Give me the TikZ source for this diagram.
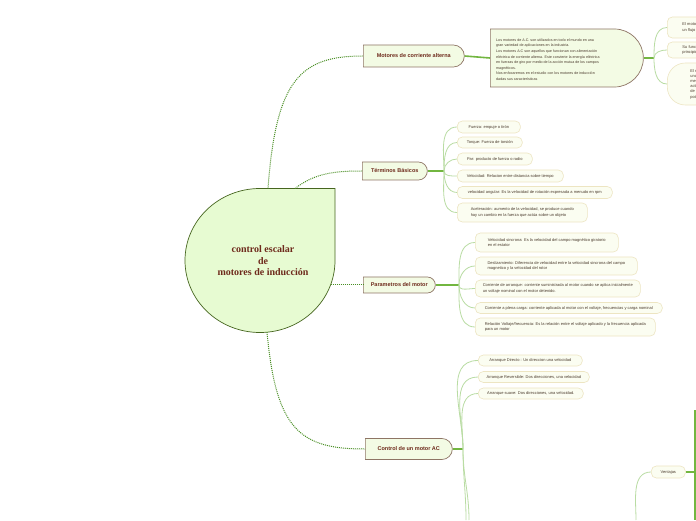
\documentclass[tikz,border=0pt]{standalone}
\usepackage{fontspec}
\setmainfont{Liberation Sans}
\newfontfamily\serifb{Liberation Serif}
\usetikzlibrary{shapes.misc}
\definecolor{dotgreen}{HTML}{4A8F25}
\definecolor{thickgreen}{HTML}{72B640}
\definecolor{thingreen}{HTML}{B9DCA3}
\definecolor{centfill}{HTML}{E7FBD2}
\definecolor{centdraw}{HTML}{46651F}
\definecolor{titletext}{HTML}{6E2A1C}
\definecolor{brfill}{HTML}{F3FBE4}
\definecolor{brdraw}{HTML}{8E7565}
\definecolor{subfill}{HTML}{FBFDF1}
\definecolor{subdraw}{HTML}{EDE5C2}
\definecolor{subtext}{HTML}{4A3A2C}
\begin{document}
\begin{tikzpicture}[x=1pt,y=1pt,
  branch/.style={rounded rectangle, rounded rectangle left arc=none, draw=brdraw, fill=brfill,
    line width=0.7pt, font=\fontsize{5.5}{6}\selectfont\bfseries, text=titletext, anchor=west, inner sep=0pt},
  sub/.style={rectangle, rounded corners=5pt, draw=subdraw, fill=subfill, line width=0.6pt,
    font=\fontsize{4}{5.2}\selectfont, text=subtext, anchor=west, inner sep=0pt, align=left},
  dotlink/.style={draw=dotgreen, line width=1pt, dash pattern=on 1pt off 1pt},
  thick link/.style={draw=thickgreen, line width=1.6pt},
  thin link/.style={draw=thingreen, line width=0.8pt},
]
\useasboundingbox (0,0) rectangle (696,520);
\fill[white] (0,0) rectangle (696,520);
\clip (0,0) rectangle (696,520);

% central teardrop
\path[fill=centfill, draw=centdraw, line width=0.7pt]
  (260,331.5) -- (335,331.5) -- (335,259.5)
  arc[start angle=0, end angle=-270, x radius=75, y radius=72] -- cycle;
\node[font=\serifb\fontsize{10}{11.5}\selectfont\bfseries, text=titletext, align=center]
  (ctext) at (263,259) {control escalar\\de\\motores de inducción};
\coordinate (cA) at (268,331.5);
\coordinate (cB) at (295,331.5);
\coordinate (cC) at (330.5,235);
\coordinate (cD) at (267,187.8);

% main branches
\node[branch, minimum width=101, minimum height=22] (mot) at (363,464) {Motores de corriente alterna};
\node[branch, minimum width=65, minimum height=18] (ter) at (362,349) {Términos Básicos};
\node[branch, minimum width=72, minimum height=16] (par) at (363,235) {Parametros del motor};
\node[branch, minimum width=87, minimum height=21] (con) at (365,71) {Control de un motor AC};

\draw[dotlink] (cA) .. controls (276,440) and (300,464) .. (mot.west);
\draw[dotlink] (cB) .. controls (315,347) and (335,349) .. (ter.west);
\draw[dotlink] (cC) -- (par.west);
\draw[dotlink] (cD) .. controls (276,90) and (300,71) .. (con.west);

% Motores de corriente alterna block
\node[rounded rectangle, rounded rectangle left arc=none, draw=brdraw, fill=brfill, line width=0.7pt,
  minimum width=153, minimum height=58, anchor=west, inner sep=0pt] (blk) at (490,462) {};
\node[anchor=west, align=left, inner sep=0pt, font=\fontsize{3.65}{5.6}\selectfont, text=subtext]
  (blktext) at (496,460.5) {Los motores de A.C. son utilizados en todo el mundo en una\\
gran variedad de aplicaciones en la industria.\\
Los motores A.C son aquellos que funcionan con alimentación\\
eléctrica de corriente alterna. Este convierte la energía eléctrica\\
en fuerzas de giro por medio de la acción mutua de los campos\\
magnéticos.\\
Nos enfocaremos en el estudio con los motores de inducción\\
dadas sus características};
\draw[thick link] (mot.east) -- (blk.west);

\coordinate (bR) at (654,462);
\draw[thick link] (blk.east) -- (bR);
\node[sub, minimum width=140, minimum height=21, text width=110, inner xsep=14] (r1) at (667,492.5)
  {El motor de inducción produce\\un flujo magnético giratorio};
\node[sub, minimum width=140, minimum height=16, text width=110, inner xsep=14] (r2) at (667,470)
  {Su funcionamiento se basa en el\\principio de inducción};
\node[sub, rounded corners=18pt, minimum width=140, minimum height=42, text width=96, inner xsep=23] (r3) at (667,436)
  {El motor de inducción es\\una máquina que convierte\\mecánicamente la energía\\activa de la red en trabajo\\de alta eficiencia y\\potencia};
\draw[thin link] (bR) to[out=90,in=180] (r1.west);
\draw[thin link] (bR) to[out=90,in=180] (r2.west);
\draw[thin link] (bR) to[out=-90,in=180] (r3.west);

% Terminos basicos
\coordinate (tB) at (444,349);
\draw[thick link] (ter.east) -- (tB);
\node[sub, minimum width=63, minimum height=12] (t1) at (457,393) {Fuerza: empuje o tirón};
\node[sub, minimum width=65, minimum height=11] (t2) at (457,377.5) {Torque: Fuerza de torsión};
\node[sub, minimum width=75, minimum height=12] (t3) at (457,361) {Par: producto de fuerza o radio};
\node[sub, minimum width=106, minimum height=12] (t4) at (457,344) {Velocidad: Relacion entre distancia sobre tiempo};
\node[sub, minimum width=155, minimum height=12] (t5) at (457,327.5) {velocidad angular: Es la velocidad de rotación expresada a menudo en rpm};
\node[sub, minimum width=130, minimum height=19] (t6) at (457,307.5) {Aceleración: aumento de la velocidad, se produce cuando\\hay un cambio en la fuerza que actúa sobre un objeto};
\foreach \n in {t1,t2,t3} \draw[thin link] (tB) to[out=90,in=180] (\n.west);
\foreach \n in {t4,t5,t6} \draw[thin link] (tB) to[out=-90,in=180] (\n.west);

% Parametros del motor
\coordinate (pB) at (459,235);
\draw[thick link] (par.east) -- (pB);
\node[sub, minimum width=143, minimum height=19] (p1) at (475,277.5) {Velocidad sincrona: Es la velocidad del campo magnético giratorio\\en el estator};
\node[sub, minimum width=162, minimum height=18] (p2) at (475,254) {Deslizamiento: Diferencia de velocidad entre la velocidad sincrona del campo\\magnetico y la velocidad del rotor};
\node[sub, minimum width=165, minimum height=17] (p3) at (475,231.5) {Corriente de arranque: corriente suministrada al motor cuando se aplica inicialmente\\un voltaje nominal con el motor detenido.};
\node[sub, minimum width=187, minimum height=11] (p4) at (475,212) {Corriente a plena carga: corriente aplicada al motor con el voltaje, frecuencias y carga nominal};
\node[sub, minimum width=180, minimum height=18] (p5) at (475,193) {Relación Voltaje/frecuencia: Es la relación entre el voltaje aplicado y la frecuencia aplicada\\para un motor};
\foreach \n in {p1,p2} \draw[thin link] (pB) to[out=90,in=180] (\n.west);
\foreach \n in {p3,p4,p5} \draw[thin link] (pB) to[out=-90,in=180] (\n.west);

% Control de un motor AC
\coordinate (kB) at (463,71);
\draw[thick link] (con.east) -- (kB);
\node[sub, minimum width=104, minimum height=11] (k1) at (478,159.5) {Arranque Directo : Un direccion una velocidad};
\node[sub, minimum width=111, minimum height=11] (k2) at (478,143) {Arranque Reversible: Dos direcciones, una velocidad};
\node[sub, minimum width=105, minimum height=11] (k3) at (478,126.5) {Arranque suave: Dos direcciones, una velocidad.};
\foreach \n in {k1,k2,k3} \draw[thin link] (kB) to[out=90,in=180] (\n.west);
\coordinate (kD1) at (466,0);
\coordinate (kD2) at (469,0);
\draw[thin link] (kB) to[out=-90,in=90] (kD1);
\draw[thin link] (kB) to[out=-90,in=90] (kD2);

% Ventajas
\node[sub, minimum width=34, minimum height=12, align=center] (ven) at (651,48) {Ventajas};
\coordinate (vR) at (695,48);
\coordinate (vTop) at (695,110);
\coordinate (vBot) at (695,0);
\coordinate (vDown) at (636,0);
\draw[thick link] (ven.east) -- (vR);
\draw[thick link] (vTop) -- (vBot);
\draw[thin link] (ven.west) to[out=180,in=90] (vDown);
\end{tikzpicture}
\end{document}
